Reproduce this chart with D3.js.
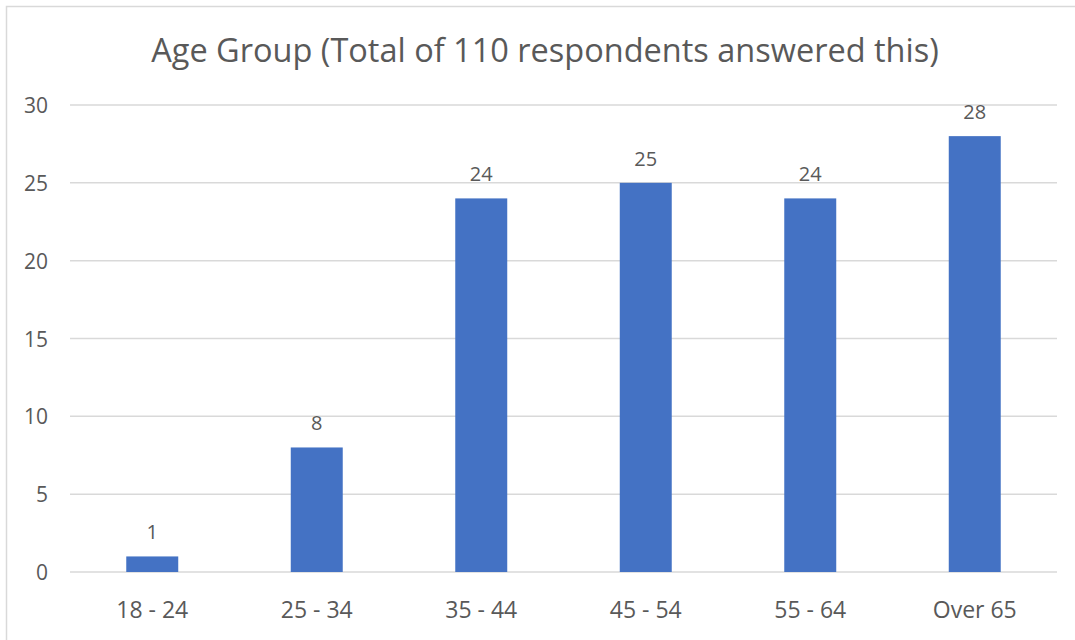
<!DOCTYPE html>
<html><head><meta charset="utf-8">
<script src="https://cdn.jsdelivr.net/npm/d3@7"></script>
<style>body{margin:0;background:#fff}svg{display:block}text{font-family:"Open Sans",sans-serif;fill:#595959}</style>
</head><body>
<svg id="c" width="1075" height="640"></svg>
<script>
const categories = ["18 - 24","25 - 34","35 - 44","45 - 54","55 - 64","Over 65"];
const values = [1, 8, 24, 25, 24, 28];
const yTicks = [0,5,10,15,20,25,30];
const title = "Age Group (Total of 110 respondents answered this)";

const svg = d3.select("#c");
svg.append("rect").attr("x",6.5).attr("y",6.5).attr("width",1100).attr("height",700)
  .attr("fill","#fff").attr("stroke","#d9d9d9").attr("stroke-width",1.5);

const x = d3.scaleBand().domain(categories).range([70,1057]).paddingInner(0.684).paddingOuter(0.342);
const y = d3.scaleLinear().domain([0,30]).range([572,105]);

svg.append("g").selectAll("line").data(yTicks).join("line")
  .attr("x1",70).attr("x2",1057).attr("y1",d=>y(d)).attr("y2",d=>y(d))
  .attr("stroke","#d9d9d9").attr("stroke-width",1.5);

const yAxis = svg.append("g").attr("transform","translate(48,0)")
  .call(d3.axisLeft(y).tickValues(yTicks).tickSize(0).tickPadding(0));
yAxis.select(".domain").remove();
yAxis.selectAll("text").style("font-size","21px").attr("fill","#595959").attr("dy","0.36em");

const xAxis = svg.append("g").attr("transform","translate(0,572)")
  .call(d3.axisBottom(x).tickSize(0).tickPadding(0));
xAxis.select(".domain").remove();
xAxis.selectAll("text").style("font-size","23px").attr("fill","#595959").attr("dy","0").attr("y",46);

svg.append("g").selectAll("rect").data(values).join("rect")
  .attr("x",(d,i)=>x(categories[i])).attr("width",x.bandwidth())
  .attr("y",d=>y(d)).attr("height",d=>y(0)-y(d)).attr("fill","#4472C4");

svg.append("g").selectAll("text").data(values).join("text")
  .attr("x",(d,i)=>x(categories[i])+x.bandwidth()/2).attr("y",d=>y(d)-17)
  .attr("text-anchor","middle").style("font-size","20px").text(d=>d);

svg.append("text").attr("x",545).attr("y",62).attr("text-anchor","middle")
  .style("font-size","32.5px").text(title);
</script>
</body></html>
